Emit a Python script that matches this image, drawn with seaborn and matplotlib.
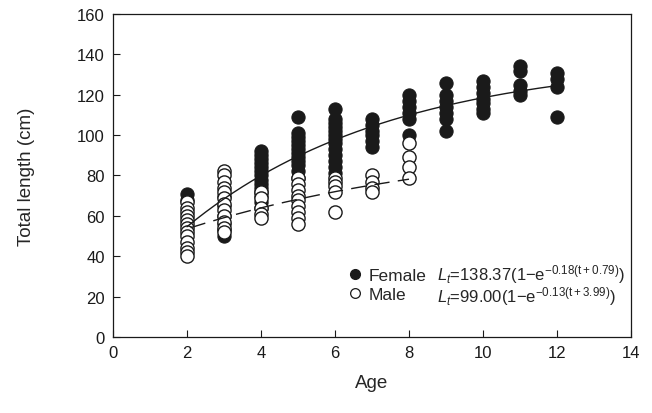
import numpy as np
import pandas as pd
import matplotlib
matplotlib.use('Agg')
import matplotlib.pyplot as plt
from matplotlib.lines import Line2D
import seaborn as sns

female_age = [2, 2,
              3, 3, 3, 3, 3, 3,
              4, 4, 4, 4, 4, 4, 4, 4, 4, 4, 4, 4, 4, 4,
              5, 5, 5, 5, 5, 5, 5, 5, 5, 5, 5, 5,
              6, 6, 6, 6, 6, 6, 6, 6, 6, 6, 6, 6, 6,
              7, 7, 7, 7, 7, 7,
              8, 8, 8, 8, 8, 8,
              9, 9, 9, 9, 9, 9, 9,
              10, 10, 10, 10, 10, 10, 10,
              11, 11, 11, 11, 11,
              12, 12, 12, 12]
female_len = [71, 68,
              50, 53, 56, 60, 65, 70,
              92, 90, 88, 86, 84, 82, 80, 78, 76, 74, 72, 70, 67, 64,
              109, 101, 99, 97, 95, 93, 91, 89, 87, 85, 82, 79,
              113, 108, 106, 104, 102, 100, 98, 96, 93, 90, 87, 84, 81,
              108, 105, 102, 100, 97, 94,
              120, 117, 114, 111, 108, 100,
              126, 120, 117, 114, 111, 108, 102,
              127, 124, 121, 118, 116, 113, 111,
              134, 132, 125, 122, 120,
              131, 128, 124, 109]

male_age = [2, 2, 2, 2, 2, 2, 2, 2, 2, 2, 2, 2, 2,
            3, 3, 3, 3, 3, 3, 3, 3, 3, 3, 3, 3,
            4, 4, 4, 4, 4,
            5, 5, 5, 5, 5, 5, 5, 5, 5,
            6, 6, 6, 6, 6,
            7, 7, 7, 7,
            8, 8, 8, 8]
male_len = [67, 64, 62, 60, 58, 56, 54, 52, 50, 47, 44, 42, 40,
            82, 80, 77, 74, 72, 69, 66, 63, 60, 57, 54, 52,
            72, 69, 64, 61, 59,
            79, 76, 73, 70, 68, 65, 62, 59, 56,
            79, 77, 75, 72, 62,
            80, 77, 74, 72,
            96, 89, 84, 79]

# von Bertalanffy parameters from the legend
f_linf, f_k, f_t0 = 138.37, 0.18, -0.79
m_linf, m_k, m_t0 = 99.00, 0.13, -3.99

females = pd.DataFrame({'Age': female_age, 'Length': female_len})
males = pd.DataFrame({'Age': male_age, 'Length': male_len})

t_f = np.linspace(2, 12, 200)
t_m = np.linspace(2.1, 8, 200)
fit_f = pd.DataFrame({'Age': t_f, 'Length': f_linf * (1 - np.exp(-f_k * (t_f - f_t0)))})
fit_m = pd.DataFrame({'Age': t_m, 'Length': m_linf * (1 - np.exp(-m_k * (t_m - m_t0)))})

sns.set_style('ticks')
plt.rcParams['font.family'] = ['Liberation Sans', 'DejaVu Sans']
plt.rcParams['mathtext.fontset'] = 'custom'
plt.rcParams['mathtext.rm'] = 'Liberation Sans'
plt.rcParams['mathtext.it'] = 'Liberation Sans:italic'

fig = plt.figure(figsize=(6.52, 4.14), dpi=100)
ax = fig.add_axes([0.1733, 0.1836, 0.7945, 0.7802])

sns.scatterplot(data=females, x='Age', y='Length', ax=ax, s=90, color='#1a1a1a',
                edgecolor='#1a1a1a', linewidth=0.8, zorder=2)
sns.scatterplot(data=males, x='Age', y='Length', ax=ax, s=90, color='white',
                edgecolor='#1a1a1a', linewidth=1.0, zorder=3)
sns.lineplot(data=fit_f, x='Age', y='Length', ax=ax, color='#1a1a1a', lw=1.0, zorder=4)
sns.lineplot(data=fit_m, x='Age', y='Length', ax=ax, color='#1a1a1a', lw=1.0,
             dashes=False, zorder=4).lines[-1].set_dashes((11, 6))

ax.set_xlim(0, 14)
ax.set_ylim(0, 160)
ax.set_xticks(range(0, 15, 2))
ax.set_yticks(range(0, 161, 20))
ax.tick_params(direction='in', length=5, width=0.8, labelsize=12, colors='#1a1a1a', pad=6)
for sp in ax.spines.values():
    sp.set_linewidth(0.9)
    sp.set_color('#1a1a1a')
ax.set_xlabel('Age', fontsize=13.5, labelpad=10)
ax.set_ylabel('Total length (cm)', fontsize=13.5, labelpad=30)

handles = [Line2D([], [], marker='o', ls='none', ms=7, color='#1a1a1a', mec='#1a1a1a'),
           Line2D([], [], marker='o', ls='none', ms=7, mfc='white', mec='#1a1a1a', mew=0.9)]
ax.legend(handles, ['Female', 'Male'], loc='lower left', bbox_to_anchor=(0.44, 0.08),
          frameon=False, fontsize=12.5, handlelength=0.6, handletextpad=0.5,
          labelspacing=0.25, borderpad=0)

ax.text(0.625, 0.195, r'$L_t$=138.37(1−e$^{\mathrm{−0.18(t+0.79)}}$)', transform=ax.transAxes,
        fontsize=12, va='center', ha='left')
ax.text(0.625, 0.127, r'$L_t$=99.00(1−e$^{\mathrm{−0.13(t+3.99)}}$)', transform=ax.transAxes,
        fontsize=12, va='center', ha='left')

fig.savefig('out.png', dpi=100)
